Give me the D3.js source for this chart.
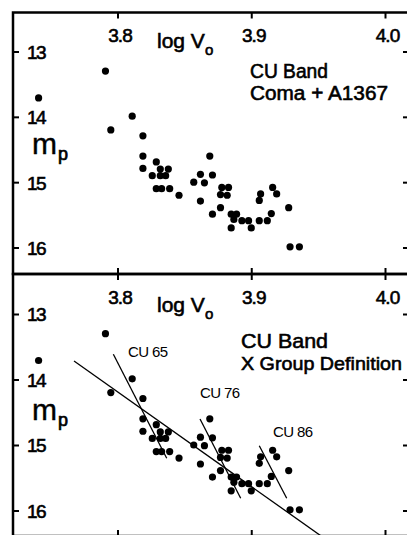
<!DOCTYPE html>
<html>
<head>
<meta charset="utf-8">
<script src="https://cdn.jsdelivr.net/npm/d3@7/dist/d3.min.js"></script>
<style>
  html, body { margin: 0; padding: 0; background: #fff; }
  svg { display: block; }
  text { font-family: "Liberation Sans", Arial, sans-serif; fill: #000; }
  .heavy { stroke: #000; stroke-width: 0.6px; }
</style>
</head>
<body>
<svg id="chart" width="407" height="535"></svg>
<script>
// Galaxy measurements: log of velocity width vs. photographic magnitude
const logV = [3.791, 3.741, 3.811, 3.795, 3.819, 3.819, 3.819, 3.829, 3.832, 3.838,
              3.826, 3.832, 3.836, 3.829, 3.833, 3.839, 3.846, 3.857, 3.862, 3.865,
              3.871, 3.869, 3.862, 3.878, 3.883, 3.877, 3.882, 3.871, 3.877, 3.885,
              3.889, 3.887, 3.885, 3.893, 3.898, 3.900, 3.906, 3.912, 3.915, 3.906,
              3.907, 3.916, 3.919, 3.928, 3.929, 3.936];
const mp   = [13.30, 13.71, 13.99, 14.20, 14.29, 14.60, 14.79, 14.69, 14.80, 14.80,
              14.90, 14.90, 14.90, 15.10, 15.10, 15.10, 15.20, 15.00, 14.88, 15.01,
              14.89, 14.60, 15.29, 15.08, 15.08, 15.19, 15.20, 15.49, 15.39, 15.49,
              15.49, 15.57, 15.70, 15.59, 15.59, 15.70, 15.59, 15.59, 15.48, 15.28,
              15.18, 15.08, 15.18, 15.39, 15.99, 15.99];

const xTicks = [3.8, 3.9, 4.0];
const yTicks = [13, 14, 15, 16];

// Overall band fit and the individual group lines (lower panel)
const bandLineV = [3.7675, 3.953];
const bandLineM = [13.718, 16.40];
const groupNames  = ["CU 65", "CU 76", "CU 86"];
const groupLineV  = [[3.7969, 3.8368], [3.8617, 3.8921], [3.9060, 3.9265]];
const groupLineM  = [[13.615, 15.203], [14.603, 15.814], [15.011, 15.814]];
const groupLabelV = [3.8079, 3.8617, 3.9163];
const groupLabelM = [13.656, 14.282, 14.878];

const svg = d3.select("#chart");
const frameLeft = 13, frameRight = 409;

const x = d3.scaleLinear().domain([3.8, 4.0]).range([117.5, 385]);

const panels = [
  { top: 12.5, bottom: 274, yRange: [51.5, 247.5],
    title: ["CU Band", "Coma + A1367"], titleX: [250, 250], titleY: [77.5, 99.5],
    titleSize: [20, 20], titleLen: [78, 138], mY: 154, logY: 48 },
  { top: 274, bottom: 536, yRange: [314, 510.5],
    title: ["CU Band", "X Group Definition"], titleX: [241, 241], titleY: [347.5, 369.5],
    titleSize: [21, 19], titleLen: [87, 161], mY: 420, logY: 312 }
];

panels.forEach((p, i) => {
  const y = d3.scaleLinear().domain([13, 16]).range(p.yRange);
  const g = svg.append("g");

  // Frame axes with inward ticks
  const top = g.append("g").attr("transform", `translate(0,${p.top})`)
    .call(d3.axisTop(x).tickValues(xTicks).tickSizeInner(-6).tickSizeOuter(0)
      .tickPadding(-29.5).tickFormat(d3.format(".1f")));
  const bottom = g.append("g").attr("transform", `translate(0,${p.bottom})`)
    .call(d3.axisBottom(x).tickValues(xTicks).tickSizeInner(-6).tickSizeOuter(0).tickFormat(""));
  const left = g.append("g").attr("transform", `translate(${frameLeft},0)`)
    .call(d3.axisLeft(y).tickValues(yTicks).tickSizeInner(-6).tickSizeOuter(0)
      .tickPadding(-14).tickFormat(d3.format("d")));
  const right = g.append("g").attr("transform", `translate(${frameRight},0)`)
    .call(d3.axisRight(y).tickValues(yTicks).tickSizeInner(-6).tickSizeOuter(0).tickFormat(""));

  [top, bottom, left, right].forEach(a => {
    a.select(".domain").remove();
    a.selectAll(".tick line").attr("stroke", "#000").attr("stroke-width", 2);
  });
  top.selectAll(".tick text").attr("font-size", 19).attr("class", "heavy")
    .attr("dx", 2).attr("fill", "#000").attr("letter-spacing", -1);
  left.selectAll(".tick text").attr("font-size", 19).attr("class", "heavy")
    .attr("text-anchor", "start").attr("dy", "0.36em").attr("fill", "#000").attr("letter-spacing", -1.5);

  // Frame box
  g.append("rect")
    .attr("x", frameLeft).attr("y", p.top)
    .attr("width", frameRight - frameLeft).attr("height", p.bottom - p.top)
    .attr("fill", "none").attr("stroke", "#000").attr("stroke-width", 2.5);

  // Axis titles
  const lv = g.append("text").attr("x", 157).attr("y", p.logY)
    .attr("font-size", 21).attr("class", "heavy");
  lv.append("tspan").text("log V");
  lv.append("tspan").attr("dy", 7).attr("font-size", 15).text("o");

  const m = g.append("text").attr("x", 32).attr("y", p.mY)
    .attr("font-size", 30).attr("class", "heavy").style("stroke-width", "0.4px");
  m.append("tspan").text("m");
  m.append("tspan").attr("dy", 6).attr("dx", 1).attr("font-size", 18).style("stroke-width", "0.7px").text("p");

  // Panel title
  p.title.forEach((t, k) => {
    g.append("text").attr("x", p.titleX[k]).attr("y", p.titleY[k])
      .attr("font-size", p.titleSize[k]).attr("class", "heavy")
      .attr("textLength", p.titleLen[k]).attr("lengthAdjust", "spacingAndGlyphs")
      .text(t);
  });

  // Fit lines for the lower panel
  if (i === 1) {
    const line = d3.line().x(d => x(d[0])).y(d => y(d[1]));
    g.append("path").datum(d3.zip(bandLineV, bandLineM))
      .attr("d", line).attr("fill", "none").attr("stroke", "#000").attr("stroke-width", 1.3);
    groupNames.forEach((name, k) => {
      g.append("path").datum(d3.zip(groupLineV[k], groupLineM[k]))
        .attr("d", line).attr("fill", "none").attr("stroke", "#000").attr("stroke-width", 1.3);
      g.append("text").attr("x", x(groupLabelV[k])).attr("y", y(groupLabelM[k]))
        .attr("font-size", 15).attr("letter-spacing", -0.6).text(name);
    });
  }

  // Data points
  g.append("g").selectAll("circle")
    .data(d3.zip(logV, mp))
    .join("circle")
    .attr("cx", d => x(d[0]))
    .attr("cy", d => y(d[1]))
    .attr("r", 3.6)
    .attr("fill", "#000");
});
</script>
</body>
</html>
